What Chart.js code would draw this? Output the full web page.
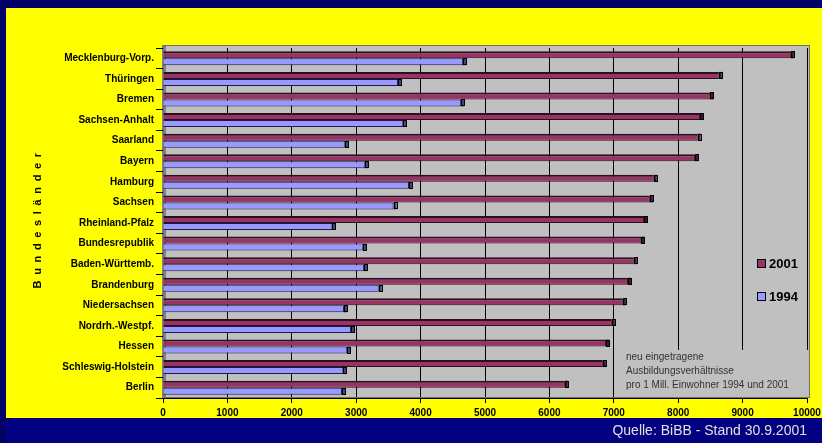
<!doctype html>
<html>
<head>
    <title>Ausbildungsverhältnisse</title>
    <script src="https://cdn.jsdelivr.net/npm/chart.js"></script>
    <style>
        html, body { margin: 0; padding: 0; background: #000066; }
        canvas { display: block; }
    </style>
</head>
<body>
    <canvas id="grafik" width="822" height="443"></canvas>

    <script>
        // Bundesländer, von oben nach unten
        var laender = ['Mecklenburg-Vorp.', 'Thüringen', 'Bremen', 'Sachsen-Anhalt', 'Saarland', 'Bayern',
            'Hamburg', 'Sachsen', 'Rheinland-Pfalz', 'Bundesrepublik', 'Baden-Württemb.', 'Brandenburg',
            'Niedersachsen', 'Nordrh.-Westpf.', 'Hessen', 'Schleswig-Holstein', 'Berlin'];

        // neu eingetragene Ausbildungsverhältnisse pro 1 Mill. Einwohner
        var werte2001 = [9750, 8630, 8500, 8340, 8300, 8260, 7620, 7560, 7470, 7430, 7310, 7220, 7140, 6970, 6880, 6830, 6240];
        var werte1994 = [4660, 3650, 4630, 3730, 2830, 3140, 3820, 3580, 2630, 3110, 3120, 3350, 2810, 2920, 2860, 2800, 2780];

        var xTicks = [0, 1000, 2000, 3000, 4000, 5000, 6000, 7000, 8000, 9000, 10000];

        var fonte = 'Liberation Sans, Arial, sans-serif';

        function escurecer(hex, f) {
            var r = parseInt(hex.substr(1, 2), 16), g = parseInt(hex.substr(3, 2), 16), b = parseInt(hex.substr(5, 2), 16);
            return 'rgb(' + Math.round(r * f) + ',' + Math.round(g * f) + ',' + Math.round(b * f) + ')';
        }

        // Rahmen, gelbes Feld, Fußzeile, Achsentitel, Legende, Notiz
        var deko = {
            id: 'deko',
            beforeDraw(chart) {
                var ctx = chart.ctx;
                ctx.save();
                ctx.fillStyle = '#000066';
                ctx.fillRect(0, 0, 822, 443);
                ctx.fillStyle = '#FFFF00';
                ctx.fillRect(6, 8, 816, 410);
                ctx.fillStyle = '#000080';
                ctx.fillRect(6, 418, 816, 25);
                var a = chart.chartArea;
                ctx.fillStyle = '#C0C0C0';
                ctx.fillRect(a.left, a.top - 3, a.right - a.left + 3, a.bottom - a.top + 3);
                // linke Wand (3D)
                ctx.fillStyle = '#808080';
                ctx.fillRect(a.left - 1, a.top - 3, 4, a.bottom - a.top + 3);
                ctx.restore();
            },
            beforeDatasetsDraw(chart) {
                var ctx = chart.ctx, a = chart.chartArea;
                ctx.save();
                // Notizfeld über den Gitterlinien
                ctx.fillStyle = '#C0C0C0';
                ctx.fillRect(621, 350, a.right - 620, a.bottom - 351);
                ctx.fillStyle = '#333333';
                ctx.font = '10px ' + fonte;
                ctx.textBaseline = 'middle';
                ctx.fillText('neu eingetragene', 626, 357);
                ctx.fillText('Ausbildungsverhältnisse', 626, 371);
                ctx.fillText('pro 1 Mill. Einwohner 1994 und 2001', 626, 385);
                ctx.strokeStyle = '#707070';
                ctx.lineWidth = 1;
                ctx.strokeRect(a.left + 0.5, a.top - 2.5, a.right - a.left + 2, a.bottom - a.top + 2);
                ctx.restore();
            },
            afterDatasetsDraw(chart) {
                var ctx = chart.ctx;
                ctx.save();
                chart.data.datasets.forEach(function (ds, i) {
                    chart.getDatasetMeta(i).data.forEach(function (bar) {
                        var h = bar.height;
                        // Stirnseite
                        ctx.fillStyle = escurecer(ds.backgroundColor, 0.45);
                        ctx.fillRect(bar.x, bar.y - h / 2, 3, h);
                        ctx.strokeStyle = '#000';
                        ctx.lineWidth = 1;
                        ctx.strokeRect(Math.round(bar.x) + 0.5, Math.round(bar.y - h / 2) + 0.5, 3, Math.round(h) - 1);
                    });
                });
                ctx.restore();
            },
            afterDraw(chart) {
                var ctx = chart.ctx;
                ctx.save();
                // Achsentitel
                ctx.translate(38, 220);
                ctx.rotate(-Math.PI / 2);
                ctx.fillStyle = '#000';
                ctx.font = 'bold 11px ' + fonte;
                ctx.textAlign = 'center';
                ctx.textBaseline = 'middle';
                ctx.letterSpacing = '1.3px';
                ctx.fillText('B u n d e s l ä n d e r', 0, 0);
                ctx.restore();

                ctx.save();
                // Legende
                ctx.font = 'bold 13px ' + fonte;
                ctx.textBaseline = 'middle';
                var ly = [264, 297];
                chart.data.datasets.forEach(function (ds, i) {
                    ctx.fillStyle = ds.backgroundColor;
                    ctx.fillRect(757.5, ly[i] - 4.5, 8, 8);
                    ctx.strokeStyle = '#000';
                    ctx.lineWidth = 1;
                    ctx.strokeRect(757.5, ly[i] - 4.5, 8, 8);
                    ctx.fillStyle = '#000';
                    ctx.fillText(ds.label, 769, ly[i]);
                });
                // Quelle
                ctx.fillStyle = '#E0E0E0';
                ctx.font = '14px ' + fonte;
                ctx.textAlign = 'right';
                ctx.fillText('Quelle: BiBB - Stand 30.9.2001', 807, 431);
                ctx.restore();
            }
        };

        var grafik = new Chart(document.getElementById('grafik').getContext('2d'), {
            type: 'bar',
            data: {
                labels: laender,
                datasets: [{
                    label: '2001',
                    data: werte2001,
                    backgroundColor: '#993366',
                    borderColor: '#2a0f1c',
                    borderWidth: { top: 2, bottom: 1, left: 0, right: 1 },
                    categoryPercentage: 0.68,
                    barPercentage: 1.0
                }, {
                    label: '1994',
                    data: werte1994,
                    backgroundColor: '#9999FF',
                    borderColor: '#1a1a4d',
                    borderWidth: { top: 1, bottom: 1, left: 0, right: 1 },
                    categoryPercentage: 0.68,
                    barPercentage: 1.0
                }]
            },
            options: {
                indexAxis: 'y',
                responsive: false,
                animation: false,
                layout: { padding: { top: 48, right: 15, left: 0, bottom: 0 } },
                plugins: {
                    legend: { display: false },
                    tooltip: { enabled: false }
                },
                scales: {
                    x: {
                        min: 0,
                        max: 10000,
                        afterBuildTicks: function (s) {
                            s.ticks = xTicks.map(function (v) { return { value: v }; });
                        },
                        afterFit: function (s) {
                            s.height = 45;
                            s.paddingLeft = 0;
                            s.paddingRight = 0;
                        },
                        grid: {
                            color: '#000000',
                            lineWidth: 1,
                            drawTicks: true,
                            tickLength: 5,
                            tickColor: '#000000'
                        },
                        border: { display: true, color: '#000000', width: 1 },
                        ticks: {
                            color: '#000000',
                            padding: 4,
                            maxRotation: 0,
                            font: { family: fonte, size: 10, weight: 'bold' },
                            callback: function (v) { return String(v); }
                        }
                    },
                    y: {
                        afterFit: function (s) {
                            s.width = 163;
                            s.paddingTop = 0;
                            s.paddingBottom = 0;
                        },
                        grid: {
                            drawOnChartArea: false,
                            drawTicks: true,
                            tickLength: 7,
                            tickColor: '#000000',
                            offset: true
                        },
                        border: { display: true, color: '#000000', width: 1 },
                        ticks: {
                            color: '#000000',
                            padding: 2,
                            font: { family: fonte, size: 10, weight: 'bold' }
                        }
                    }
                }
            },
            plugins: [deko]
        });
    </script>
</body>
</html>
